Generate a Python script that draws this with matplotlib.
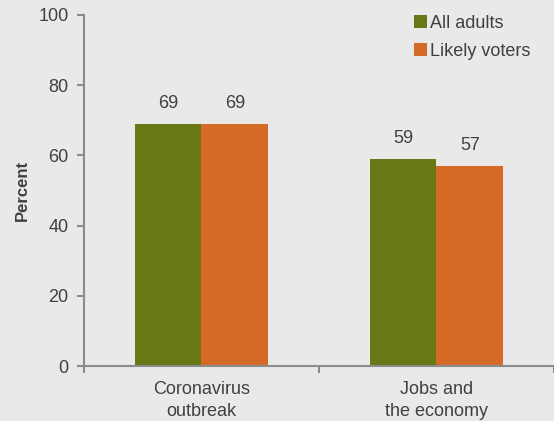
import numpy as np
import matplotlib.pyplot as plt

categories = ["Coronavirus\noutbreak", "Jobs and\nthe economy"]
series = ["All adults", "Likely voters"]
all_adults = [69, 59]
likely_voters = [69, 57]
colors = ["#697715", "#d66a27"]

plt.rcParams['font.family'] = ['Liberation Sans', 'DejaVu Sans']
bg = "#e9e9e9"
txt = "#404040"
axc = "#8c8c8c"

fig = plt.figure(figsize=(5.54, 4.21), dpi=100, facecolor=bg)
ax = fig.add_axes([0.1516, 0.1306, 0.8484, 0.8338], facecolor=bg)

x = np.arange(len(categories))
w = 0.284
b1 = ax.bar(x - w / 2, all_adults, w, color=colors[0], label=series[0])
b2 = ax.bar(x + w / 2, likely_voters, w, color=colors[1], label=series[1])

for bars in (b1, b2):
    for r in bars:
        ax.text(r.get_x() + r.get_width() / 2, r.get_height() + 3.5, f"{r.get_height():.0f}",
                ha="center", va="bottom", fontsize=13, color=txt)

ax.set_xlim(-0.5, 1.5)
ax.set_ylim(0, 100)
ax.set_yticks(range(0, 101, 20))
ax.set_xticks(x)
ax.set_xticklabels(categories, linespacing=1.4)
ax.set_xticks([-0.5, 0.5, 1.5], minor=True)
ax.tick_params(axis="x", which="major", length=0, pad=11, labelsize=13, labelcolor=txt)
ax.tick_params(axis="x", which="minor", length=5, width=1.5, color=axc, direction="out")
ax.tick_params(axis="y", length=5, width=1.5, color=axc, labelsize=13, labelcolor=txt, pad=6)

for s in ("top", "right"):
    ax.spines[s].set_visible(False)
for s in ("left", "bottom"):
    ax.spines[s].set_color(axc)
    ax.spines[s].set_linewidth(1.5)

ax.set_ylabel("Percent", fontsize=12, fontweight="bold", color=txt, labelpad=6)

leg = ax.legend(loc="upper right", bbox_to_anchor=(0.985, 1.047), frameon=False, fontsize=13,
                handlelength=0.7, handleheight=0.7, handletextpad=0.2, labelspacing=0.6)
for t in leg.get_texts():
    t.set_color(txt)

fig.savefig("out.png", dpi=100, facecolor=bg)
